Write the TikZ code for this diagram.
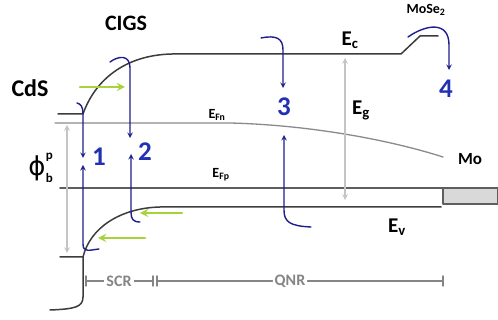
\documentclass[tikz,border=0pt]{standalone}
\usepackage{fontspec}
\setmainfont{Carlito}
\newfontfamily\greekfont{DejaVu Sans}
\definecolor{band}{HTML}{3C3C3C}
\definecolor{fermi}{HTML}{8A8A8A}
\definecolor{fermip}{HTML}{5E5E5E}
\definecolor{gap}{HTML}{C4C4C4}
\definecolor{carrier}{HTML}{1E1E8C}
\definecolor{numb}{HTML}{2230B4}
\definecolor{light}{HTML}{A6D33C}
\definecolor{dim}{HTML}{858585}
\begin{document}
\begin{tikzpicture}[x=1pt,y=-1pt,line join=round,line cap=round,>=stealth,
	lbl/.style={font=\bfseries\fontsize{21}{21}\selectfont,text=black},
	small/.style={font=\bfseries\fontsize{14}{14}\selectfont,text=black},
	num/.style={font=\bfseries\fontsize{27}{27}\selectfont,text=numb},
	path/.style={carrier,line width=1.4pt},
	photon/.style={light,line width=2.6pt,->},
	dimtext/.style={font=\bfseries\fontsize{16}{16}\selectfont,text=dim,fill=white,inner sep=2pt}]
	\useasboundingbox (0,0) rectangle (498,320);
	\def\xj{83} \def\xq{155} \def\xb{443}% CdS/CIGS, SCR end, back contact
	% bands
	\draw[band,line width=1.5pt] (58,114)--(\xj,114) .. controls (95,80) and (125,55) .. (172,54)--(401,54)--(420,36)--(438,36);
	\draw[band,line width=1.5pt] (60,257)--(\xj,257) .. controls (90,228) and (120,208) .. (160,207)--(441,207);
	\draw[band,line width=1.5pt] (\xj,257)--(\xj,297) .. controls (\xj,307) and (75,309) .. (50,310);
	\draw[fermi,line width=1.3pt] (55,123)--(230,123) .. controls (310,125) and (390,140) .. (443,157);
	\draw[fermip,line width=1.8pt] (60,188)--(\xb,188);
	\draw[fermip,line width=1.2pt,fill=black!15] (\xb,188) rectangle (498,204);
	\draw[gap,line width=1.5pt,<->] (67,125)--(67,253);
	\draw[gap,line width=1.5pt,<->] (345,58)--(345,200);
	% labels
	\node[font=\bfseries\fontsize{22}{22}\selectfont] (cigs) at (126,23) {CIGS};
	\node[font=\bfseries\fontsize{24}{24}\selectfont] (cds) at (30,88) {CdS};
	\node[lbl] (ec) at (350,40) {E\textsubscript{c}};
	\node[lbl] (eg) at (361,110) {E\textsubscript{g}};
	\node[lbl] (ev) at (397,227) {E\textsubscript{v}};
	\node[small] (efn) at (217,115) {E\textsubscript{Fn}};
	\node[small] (efp) at (221,175) {E\textsubscript{Fp}};
	\node[font=\bfseries\fontsize{17}{17}\selectfont] (mo) at (470,159) {Mo};
	\node[small] (mose) at (426,10) {MoSe\textsubscript{2}};
	\node[font=\greekfont\fontsize{26}{26}\selectfont,inner sep=0pt] (phi) at (37,168) {ϕ};
	\node[font=\bfseries\fontsize{13}{13}\selectfont,inner sep=0pt,anchor=west] (phip) at (phi.east|-0,157) {p};
	\node[font=\bfseries\fontsize{13}{13}\selectfont,inner sep=0pt,anchor=west] (phib) at (phi.east|-0,178) {b};
	\node[num] (n1) at (99,157) {1};
	\node[num] (n2) at (145,152) {2};
	\node[num] (n3) at (284,107) {3};
	\node[num] (n4) at (446,89) {4};
	% recombination paths
	\coordinate (t1) at (83,158); \coordinate (b1) at (83,165);
	\coordinate (t2) at (130,138); \coordinate (b2) at (131,154);
	\coordinate (t3) at (283,88); \coordinate (b3) at (284,135);
	\coordinate (t4) at (449,70);
	\draw[path,->] (77,103) .. controls (81,104) and (83,107) .. (83,114)--(t1);
	\draw[path,->] (99,249) .. controls (90,250) and (83,253) .. (83,244)--(b1);
	\draw[path,->] (110,62) .. controls (118,56) and (130,54) .. (130,68)--(t2);
	\draw[path,->] (140,222) .. controls (133,222) and (131,219) .. (131,212)--(b2);
	\draw[path,->] (261,38) .. controls (276,35) and (283,38) .. (283,50)--(t3);
	\draw[path,->] (311,227) .. controls (290,226) and (284,222) .. (284,210)--(b3);
	\draw[path,->] (408,37) .. controls (425,25) and (449,20) .. (449,45)--(t4);
	% light
	\draw[photon] (80,87)--(125,87);
	\draw[photon] (182,213)--(140,213);
	\draw[photon] (145,238)--(98,238);
	% regions
	\node[dimtext] (scr) at (119,281) {SCR};
	\node[dimtext] (qnr) at (290,281) {QNR};
	\draw[dim,line width=1.5pt] (86,281)--(scr) (scr)--(153,281) (157,281)--(qnr) (qnr)--(\xb,281);
	\draw[dim,line width=1.5pt] (86,276)--(86,286) (153,276)--(153,286) (157,276)--(157,286) (\xb,276)--(\xb,286);
	\node[dimtext] at (scr) {SCR};
	\node[dimtext] at (qnr) {QNR};
\end{tikzpicture}
\end{document}
